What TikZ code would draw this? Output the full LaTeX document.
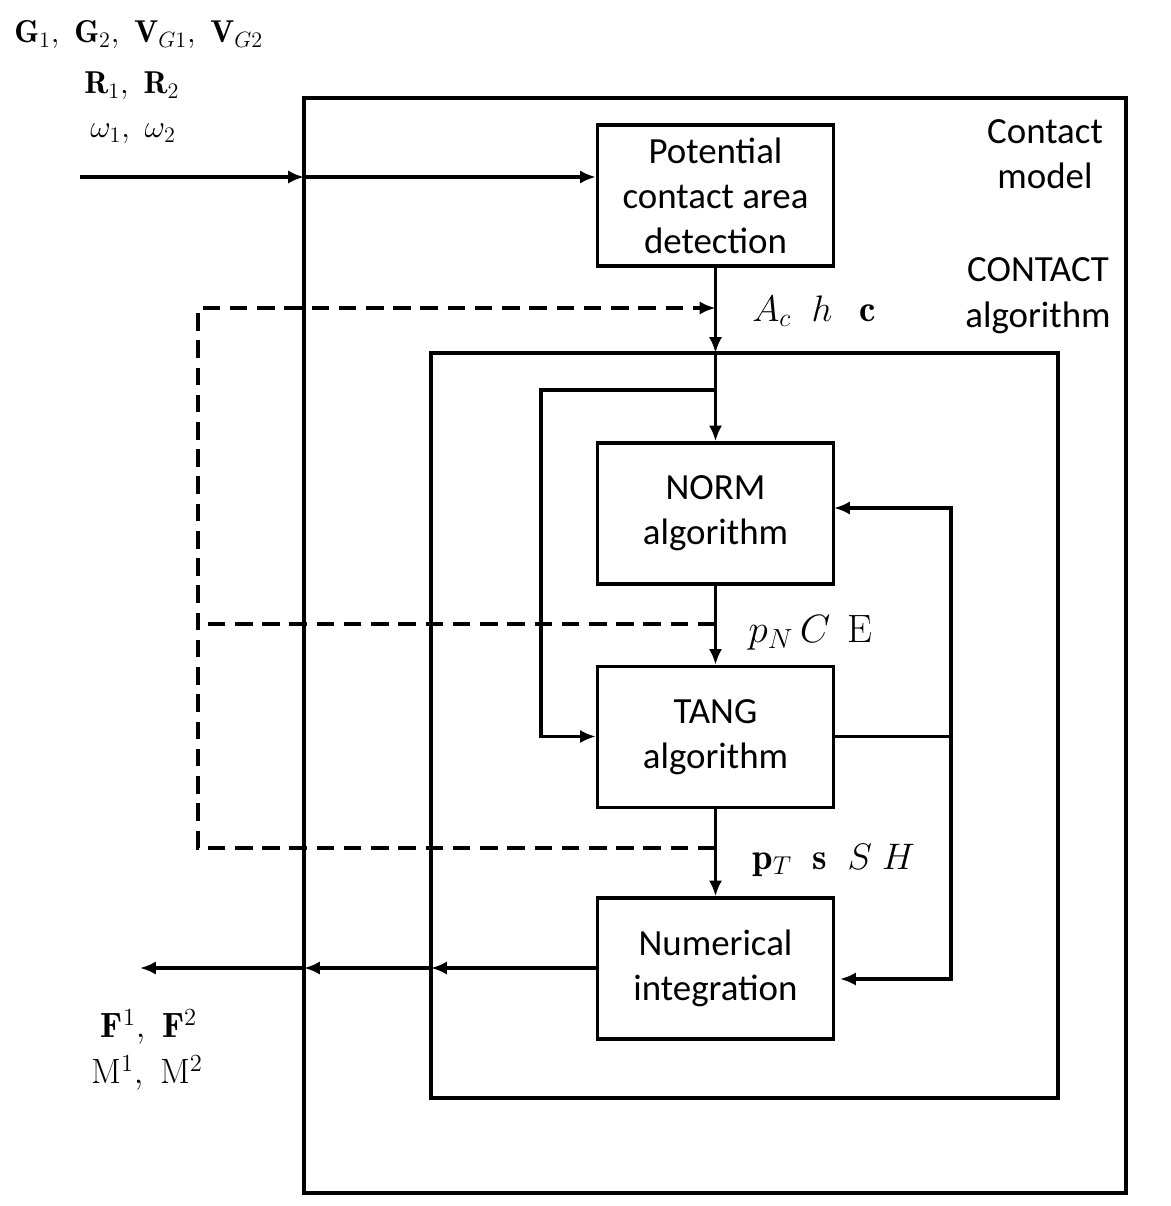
\RequirePackage{fix-cm}
\documentclass[tikz,border=0pt]{standalone}
\usepackage{amsmath}
\usepackage{fontspec}
\newfontfamily\calibri{Carlito}
\usetikzlibrary{arrows.meta,positioning}

\begin{document}
\begin{tikzpicture}[x=0.02cm, y=-0.02cm,
                    every node/.append style = {inner sep=0pt},
                    block/.style = {draw, line width=1.9pt, minimum width=4.72cm, minimum height=2.82cm,
                                    align=center, font=\calibri\fontsize{21}{25.7}\selectfont},
                    title/.style = {align=center, font=\calibri\fontsize{21}{26}\selectfont},
                    frame/.style = {line width=1.9pt},
                    link/.style = {line width=1.9pt},
                    arr/.style = {line width=1.9pt, -{Latex[length=9pt,width=7.5pt]}},
                    fbdash/.style = {line width=1.9pt, dash pattern=on 10pt off 5.5pt},
                    lbl/.style = {anchor=west, font=\fontsize{18}{22}\selectfont},
                    flow/.style = {anchor=west, font=\fontsize{21}{25}\selectfont},
                    vars/.style = {font=\fontsize{20}{24}\selectfont}]
                \useasboundingbox (0,0) rectangle (1170,1206);
                % frames
                \coordinate (cm) at (304,98);
                \coordinate (ca) at (431,353);
                \draw[frame] (cm) rectangle (1126,1193);
                \draw[frame] (ca) rectangle (1058,1098);
                \node[title] (cmt) at (1045,154) {Contact\\model};
                \node[title] (cat) at (1038,296) {CONTACT\\algorithm};
                % blocks
                \node[block] (pot) at (715.5,195.5) {Potential\\contact area\\detection};
                \node[block] (norm) at (715.5,513.5) {NORM\\algorithm};
                \node[block] (tang) at (715.5,737) {TANG\\algorithm};
                \node[block] (num) at (715.5,968.5) {Numerical\\integration};
                % inputs and outputs
                \node[lbl] (gin) at (14,35) {$\mathbf{G}_1,\ \mathbf{G}_2,\ \mathbf{V}_{G1},\ \mathbf{V}_{G2}$};
                \node[lbl] (rin) at (84,86) {$\mathbf{R}_1,\ \mathbf{R}_2$};
                \node[lbl] (win) at (90,134) {$\omega_1,\ \omega_2$};
                \node[vars] (fout) at (149,1027) {$\mathbf{F}^1,\ \mathbf{F}^2$};
                \node[vars] (mout) at (147,1073) {$\mathrm{M}^1,\ \mathrm{M}^2$};
                \coordinate (in) at (80,177);
                \coordinate (out) at (140,968);
                \draw[arr] (in) -- (in -| cm);
                \draw[arr] (in -| cm) -- (in -| pot.west);
                \draw[arr] (num.west |- out) -- (out -| ca);
                \draw[arr] (out -| ca) -- (out -| cm);
                \draw[arr] (out -| cm) -- (out);
                % main chain
                \coordinate (br) at (715.5,390);
                \coordinate (bl) at (541,736.5);
                \draw[arr] (pot.south) -- (pot.south |- ca);
                \draw[arr] (pot.south |- ca) -- (norm.north);
                \draw[arr] (br) -| (bl) -- (bl -| tang.west);
                \draw[arr] (norm) -- (tang);
                \draw[arr] (tang) -- (num);
                % loop back on the right
                \coordinate (rl) at (951,736.5);
                \coordinate (nin) at (834,508);
                \coordinate (iin) at (840,979);
                \draw[link] (tang.east |- rl) -- (rl);
                \draw[arr] (rl) |- (nin);
                \draw[arr] (rl) |- (iin);
                % dashed feedback
                \coordinate (dtop) at (715.5,308);
                \coordinate (dmid) at (715.5,624);
                \coordinate (dbot) at (715.5,848);
                \coordinate (dl) at (198,308);
                \draw[fbdash, -{Latex[length=9pt,width=7.5pt]}] (dbot) -| (dl) -- (dtop);
                \draw[fbdash] (dmid) -- (dmid -| dl);
                % labels
                \node[flow] (acl) at (752,311) {$A_c\;\; h\;\;\, \mathbf{c}$};
                \node[flow, font=\fontsize{22.5}{26}\selectfont] (pnl) at (748,633) {$p_N\, C\;\, \mathrm{E}$};
                \node[flow] (ptl) at (752,860) {$\mathbf{p}_T\;\; \mathbf{s}\;\; S\; H$};
                \end{tikzpicture}
\end{document}
